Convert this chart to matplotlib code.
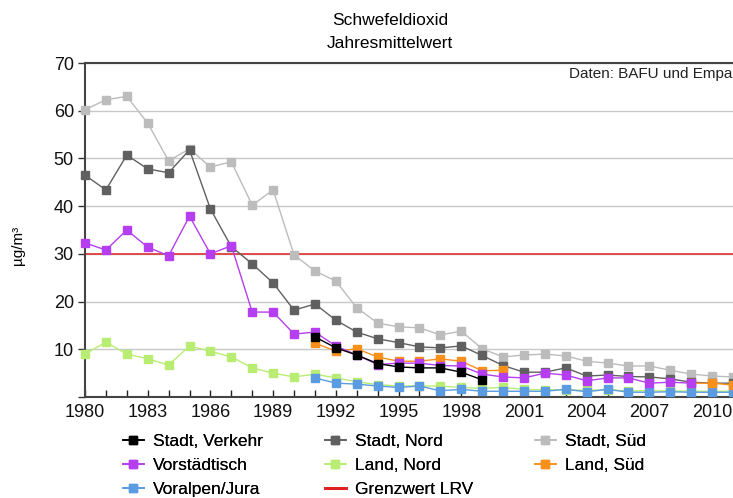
import numpy as np
import matplotlib
matplotlib.use("Agg")
import matplotlib.pyplot as plt
from matplotlib.lines import Line2D
from matplotlib.ticker import FuncFormatter

plt.rcParams['font.family'] = ['Liberation Sans', 'DejaVu Sans']

years = list(range(1980, 2012))
nan = np.nan

stadt_verkehr = [nan]*11 + [12.6, 10.3, 8.8, 7.0, 6.3, 6.1, 6.1, 5.2, 3.6] + [nan]*12
stadt_nord = [46.5, 43.4, 50.7, 47.8, 47.0, 51.8, 39.4, 31.5, 27.9, 23.9,
              18.2, 19.5, 16.1, 13.6, 12.2, 11.4, 10.5, 10.3, 10.7, 8.7,
              6.6, 5.2, 5.2, 6.1, 4.4, 4.6, 4.3, 4.2, 3.8, 3.1, 2.9, 2.9]
stadt_sued = [60.2, 62.3, 63.0, 57.4, 49.5, 52.0, 48.2, 49.3, 40.2, 43.4,
              29.8, 26.4, 24.3, 18.7, 15.5, 14.7, 14.5, 13.0, 13.8, 10.1,
              8.4, 8.8, 9.0, 8.6, 7.5, 7.1, 6.5, 6.5, 5.6, 4.8, 4.4, 4.2]
vorstaedtisch = [32.3, 30.8, 35.0, 31.4, 29.6, 37.9, 30.0, 31.7, 17.8, 17.8,
                 13.2, 13.6, 10.7, 8.8, 6.8, 7.1, 7.1, 6.6, 6.5, 4.8,
                 4.2, 4.0, 5.0, 4.6, 3.4, 4.0, 4.0, 2.9, 3.1, 2.9, nan, nan]
land_nord = [9.0, 11.5, 9.0, 8.0, 6.7, 10.7, 9.6, 8.4, 6.1, 5.0,
             4.2, 4.8, 4.0, 3.2, 2.6, 2.3, 2.3, 2.3, 2.0, 1.8,
             2.0, 1.6, 1.5, 1.5, 1.4, 1.5, 1.3, 1.3, 1.3, 1.2, 1.2, 1.2]
land_sued = [nan]*11 + [11.3, 9.6, 10.1, 8.4, 7.5, 7.5, 8.0, 7.5, 5.5,
                        5.6] + [nan]*8 + [2.9, 2.9, 2.5]
voralpen = [nan]*11 + [4.0, 2.9, 2.7, 2.3, 2.0, 2.3, 1.3, 1.6, 1.2,
                       1.2, 1.2, 1.2, 1.6, 1.1, 1.6, 1.0, 1.0, 1.1, 1.0, 1.0, 1.0]
grenzwert = 30

series = [
    ("Stadt, Verkehr", stadt_verkehr, "#000000"),
    ("Stadt, Nord", stadt_nord, "#606060"),
    ("Stadt, Süd", stadt_sued, "#bcbcbc"),
    ("Vorstädtisch", vorstaedtisch, "#b43ef0"),
    ("Land, Nord", land_nord, "#b9ec72"),
    ("Land, Süd", land_sued, "#f8901a"),
    ("Voralpen/Jura", voralpen, "#5b9be2"),
]

W, H = 733, 498
fig = plt.figure(figsize=(W/100, H/100), dpi=100)
ax = fig.add_axes([85/W, 1-397/H, 1-85/W, (397-63)/H])

ax.set_xlim(1980, 2011)
ax.set_ylim(0, 70)
ax.yaxis.grid(True, color="#c8c8c8", linewidth=1)
ax.set_axisbelow(True)

ax.axhline(grenzwert, color="#e03030", linewidth=1.2, zorder=2)

draw_order = [2, 1, 4, 6, 5, 3, 0]
for k, i in enumerate(draw_order):
    name, vals, col = series[i]
    ax.plot(years, vals, color=col, marker="s", markersize=6, linewidth=1,
            zorder=3 + k, clip_on=False)

ax.set_xticks(years, minor=True)
ax.set_xticks(list(range(1980, 2012, 3)))
ax.set_yticks(range(0, 71, 10))
ax.yaxis.set_major_formatter(FuncFormatter(lambda v, p: "" if v == 0 else f"{v:.0f}"))
ax.tick_params(axis="x", which="both", direction="in", length=5, width=1,
               color="#222222", labelsize=13, pad=5)
ax.tick_params(axis="y", direction="out", length=5, width=1, color="#333333",
               labelsize=13, pad=3)
ax.tick_params(labelcolor="#111111")
for s in ["left", "bottom", "top"]:
    ax.spines[s].set_color("#444444")
    ax.spines[s].set_linewidth(1.5)
ax.spines["right"].set_visible(False)

fig.text(18/W, 1-245/H, "µg/m³", rotation=90, ha="center", va="center", fontsize=11)
fig.text(732/W, 1-67/H, "Daten: BAFU und Empa", ha="right", va="top",
         fontsize=11, color="#222222")

fig.text(390/W, 1-20/H, "Schwefeldioxid", ha="center", va="center", fontsize=12.5)
fig.text(390/W, 1-44/H, "Jahresmittelwert", ha="center", va="center", fontsize=12.5)

handles = []
for name, vals, col in series:
    handles.append(Line2D([], [], color=col, marker="s", markersize=6, linewidth=1.2))
handles.append(Line2D([], [], color="#e02020", linewidth=2))
labels = [s[0] for s in series] + ["Grenzwert LRV"]

columns = [([0, 3, 6], 123), ([1, 4, 7], 325), ([2, 5], 535)]
for idx, x0 in columns:
    leg = fig.legend([handles[i] for i in idx], [labels[i] for i in idx],
                     loc="upper left", bbox_to_anchor=(x0/W, 1-434/H),
                     frameon=False, fontsize=12.5, handlelength=1.2,
                     handletextpad=0.5, labelspacing=0.5, borderpad=0,
                     borderaxespad=0)
    fig.add_artist(leg)

fig.savefig("out.png", dpi=100)
